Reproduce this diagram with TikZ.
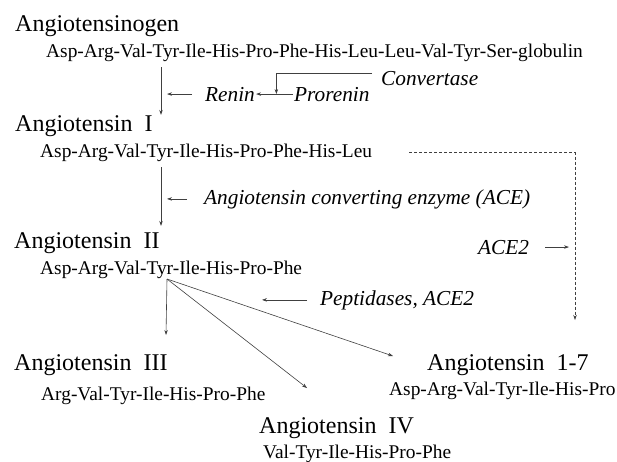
\documentclass[tikz,border=0pt]{standalone}
\usepackage{fontspec}
\setmainfont{Liberation Serif}
\usetikzlibrary{calc,arrows.meta}

\begin{document}
\begin{tikzpicture}[x=1pt,y=-1pt,
    heading/.style={anchor=base west,inner sep=0pt,font=\fontsize{24}{26}\selectfont},
    seq/.style={anchor=base west,inner sep=0pt,font=\fontsize{19.4}{21}\selectfont},
    enz/.style={anchor=base west,inner sep=1pt,font=\fontsize{21.3}{23}\selectfont\itshape},
    flow/.style={draw=black!75,line width=0.6pt,-{Stealth[length=5pt,width=3.5pt]}}]
  \useasboundingbox (0,0) rectangle (617,461);

  % peptides
  \node[heading] (agen) at (15,31) {Angiotensinogen};
  \node[seq] (seq0) at (46,57) {Asp-Arg-Val-Tyr-Ile-His-Pro-Phe-His-Leu-Leu-Val-Tyr-Ser-globulin};
  \node[heading] (ang1) at (15,131) {Angiotensin~~I};
  \node[seq] (seq1) at (40,157) {Asp-Arg-Val-Tyr-Ile-His-Pro-Phe-His-Leu};
  \node[heading] (ang2) at (14,248) {Angiotensin~~II};
  \node[seq] (seq2) at (40,274) {Asp-Arg-Val-Tyr-Ile-His-Pro-Phe};
  \node[heading] (ang3) at (14,370) {Angiotensin~~III};
  \node[seq] (seq3) at (41,400) {Arg-Val-Tyr-Ile-His-Pro-Phe};
  \node[heading] (ang4) at (259,433) {Angiotensin~~IV};
  \node[seq] (seq4) at (263,458) {Val-Tyr-Ile-His-Pro-Phe};
  \node[heading] (ang17) at (427,370) {Angiotensin~~1-7};
  \node[seq] (seq17) at (389,395) {Asp-Arg-Val-Tyr-Ile-His-Pro};

  % enzymes
  \node[enz] (renin) at (204,101) {Renin};
  \node[enz] (prorenin) at (293,101) {Prorenin};
  \node[enz] (conv) at (380,85) {Convertase};
  \node[enz] (ace) at (203,204) {Angiotensin converting enzyme (ACE)};
  \node[enz] (ace2) at (477,254) {ACE2};
  \node[enz] (pept) at (319,305) {Peptidases, ACE2};

  % main line and branch points
  \coordinate (x0) at (161,0);
  \coordinate (fan) at (167,279);
  \coordinate (d17) at (575,320);
  \coordinate (t3) at (166,335);
  \coordinate (t4) at (307,388);
  \coordinate (t17) at (393,356);

  \draw[flow] (seq0.south -| x0) ++(0,6) -- (ang1.north -| x0);
  \draw[flow] ([xshift=-12pt]renin.west) -- ([xshift=6pt]renin.west -| x0);
  \draw[flow] (prorenin.west) -- (renin.east);
  \draw[flow] ([xshift=-8pt,yshift=5pt]conv.west) -| ($(renin.east)!0.55!(prorenin.west)$);

  \draw[flow] (seq1.south -| x0) ++(0,6) -- ([yshift=6pt]ang2.north -| x0);
  \draw[flow] ([xshift=-16pt]ace.west) -- ([xshift=6pt]ace.west -| x0);

  % ACE2 route
  \draw[flow,dash pattern=on 3pt off 2pt] ([xshift=37pt]seq1.east) -| (d17);
  \draw[flow] ([xshift=15pt]ace2.east) -- ([xshift=-6pt]ace2.east -| d17);

  % fan out of angiotensin II
  \draw[flow] (fan) -- (t3);
  \draw[flow] (fan) -- (t4);
  \draw[flow] (fan) -- (t17);
  \draw[flow] ([xshift=-12pt]pept.west) -- ++(-45,0);
\end{tikzpicture}
\end{document}
